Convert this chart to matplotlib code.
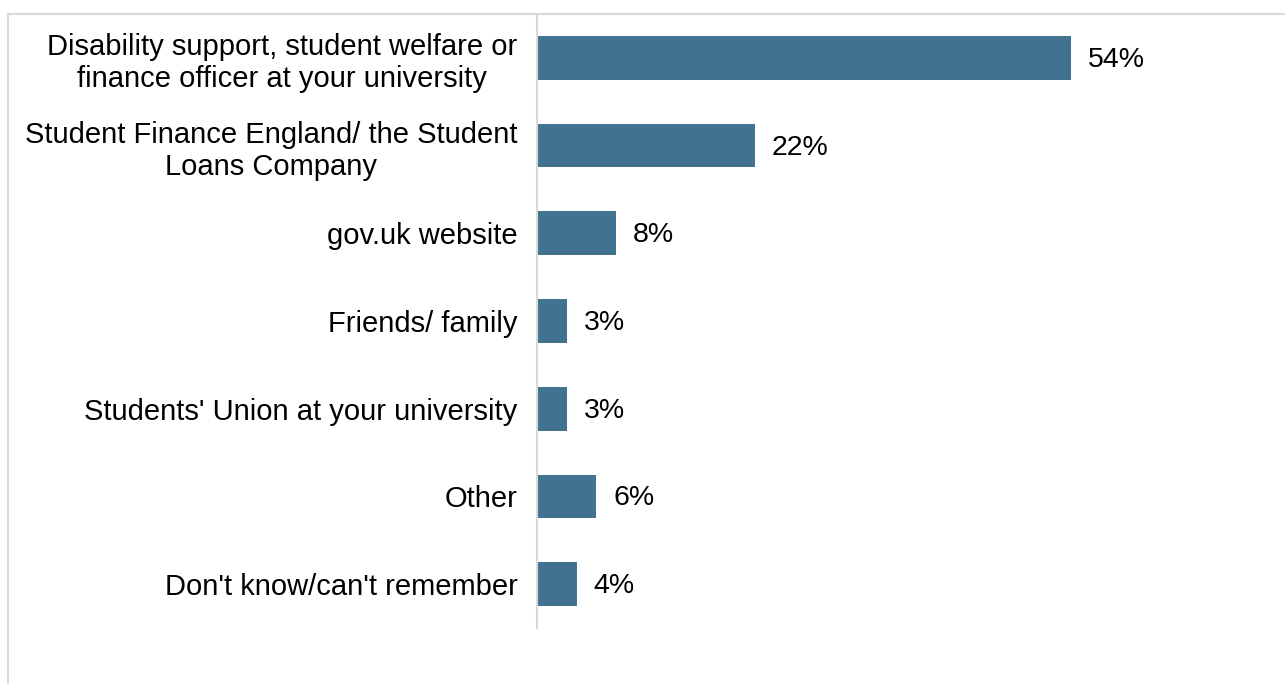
import matplotlib.pyplot as plt
from matplotlib.patches import Rectangle

categories = ["Disability support, student welfare or\nfinance officer at your university",
              "Student Finance England/ the Student\nLoans Company",
              "gov.uk website",
              "Friends/ family",
              "Students' Union at your university",
              "Other",
              "Don't know/can't remember"]
values = [54, 22, 8, 3, 3, 6, 4]

bar_color = '#41728F'
plt.rcParams['font.family'] = ['Liberation Sans', 'DejaVu Sans']

fig = plt.figure(figsize=(12.85, 6.84), dpi=100)
W, H = 1285, 684

# light grey frame round the chart area
fig.patches.append(Rectangle((8 / W, -0.1), 1.2, (H - 14) / H + 0.1,
                             transform=fig.transFigure, fill=False,
                             edgecolor='#d9d9d9', linewidth=1.5))

ax = fig.add_axes([537 / W, 1 - 628 / H, (W - 537) / W, (628 - 14) / H])
y = list(range(len(categories)))
ax.barh(y, values, height=0.5, color=bar_color)
ax.set_xlim(0, (W - 537) / 9.89)
ax.set_ylim(len(categories) - 0.5, -0.5)

for yi, v in zip(y, values):
    ax.annotate(f"{v}%", (v, yi), xytext=(17, -2), textcoords='offset pixels',
                va='center', ha='left', fontsize=20.5)

ax.set_yticks(y)
ax.set_yticklabels(categories, fontsize=21, multialignment='center')
ax.tick_params(axis='y', length=0, pad=14)
ax.set_xticks([])
for s in ['top', 'right', 'bottom']:
    ax.spines[s].set_visible(False)
ax.spines['left'].set_color('#d9d9d9')
ax.spines['left'].set_linewidth(1.5)

fig.savefig('out.png', dpi=100)
